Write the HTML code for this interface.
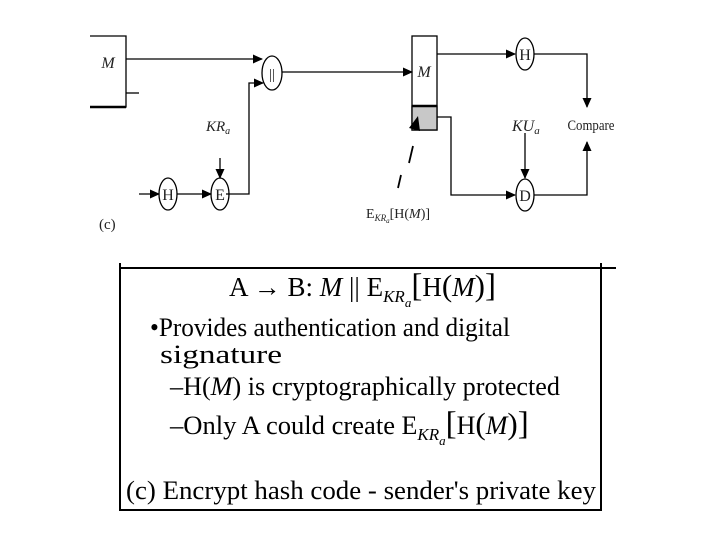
<!DOCTYPE html>
<html><head><meta charset="utf-8"><style>
html,body{margin:0;padding:0;background:#fff;}
svg{display:block;}
</style></head><body>
<svg width="720" height="540" viewBox="0 0 720 540" xmlns="http://www.w3.org/2000/svg">
<defs>
<marker id="a" markerWidth="10" markerHeight="9" refX="9" refY="4.5" orient="auto" markerUnits="userSpaceOnUse">
<path d="M0,0 L10,4.5 L0,9 z" fill="#000"/></marker>
</defs>
<g stroke="#000" fill="none" stroke-width="1.3">
<path d="M90,36 H126 V107 H90" />
<line x1="90" y1="107" x2="126" y2="107" stroke-width="2.5"/>
<line x1="126" y1="93" x2="139" y2="93"/>
<line x1="126" y1="59" x2="262" y2="59" marker-end="url(#a)"/>
<ellipse cx="272" cy="73" rx="10" ry="17"/>
<path d="M226,194 H249 V83 H263" marker-end="url(#a)"/>
<line x1="139" y1="194" x2="159" y2="194" marker-end="url(#a)"/>
<ellipse cx="168" cy="194" rx="9" ry="16"/>
<line x1="177" y1="194" x2="211" y2="194" marker-end="url(#a)"/>
<ellipse cx="220" cy="194" rx="9" ry="16"/>
<line x1="220" y1="158" x2="220" y2="178" marker-end="url(#a)"/>
<line x1="282" y1="72" x2="412" y2="72" marker-end="url(#a)"/>
<rect x="412" y="36" width="25" height="94"/>
<rect x="412" y="106" width="25" height="24" fill="#c8c8c8"/>
<line x1="412" y1="106" x2="437" y2="106" stroke-width="2.5"/>
<path d="M409,128 L418,116 L420,131 z" fill="#000" stroke="none"/>
<line x1="413" y1="146" x2="409" y2="163" stroke-width="1.8"/>
<line x1="401" y1="175" x2="398" y2="188" stroke-width="1.8"/>
<line x1="437" y1="54" x2="515" y2="54" marker-end="url(#a)"/>
<ellipse cx="525" cy="54" rx="9" ry="16"/>
<path d="M534,54 H587 V107" marker-end="url(#a)"/>
<path d="M437,117 H451 V195 H515" marker-end="url(#a)"/>
<ellipse cx="525" cy="195" rx="9" ry="16"/>
<path d="M534,195 H587 V142" marker-end="url(#a)"/>
<line x1="525" y1="133" x2="525" y2="178" marker-end="url(#a)"/>
<line x1="120" y1="263" x2="120" y2="511" stroke-width="2"/>
<line x1="601" y1="263" x2="601" y2="511" stroke-width="2"/>
<line x1="120" y1="268" x2="616" y2="268" stroke-width="2"/>
<line x1="120" y1="510" x2="601" y2="510" stroke-width="2"/>
</g>
<g font-family="Liberation Serif, serif" fill="#222">
<text x="108" y="68" font-size="16" font-style="italic" text-anchor="middle">M</text>
<text x="272" y="79" font-size="15" text-anchor="middle">||</text>
<text x="168" y="200" font-size="16" text-anchor="middle">H</text>
<text x="220" y="200" font-size="16" text-anchor="middle">E</text>
<text x="206" y="131" font-size="15" font-style="italic">KR<tspan font-size="10" dy="3">a</tspan></text>
<text x="99" y="229" font-size="15">(c)</text>
<text x="424" y="77" font-size="16" font-style="italic" text-anchor="middle">M</text>
<text x="525" y="60" font-size="16" text-anchor="middle">H</text>
<text x="525" y="201" font-size="16" text-anchor="middle">D</text>
<text x="512" y="131" font-size="16" font-style="italic">KU<tspan font-size="11" dy="3">a</tspan></text>
<text x="591" y="130" font-size="15" text-anchor="middle" textLength="47" lengthAdjust="spacingAndGlyphs">Compare</text>
<text x="366" y="218" font-size="14">E<tspan font-size="9" font-style="italic" dy="3">KR</tspan><tspan font-size="7" font-style="italic" dy="2">a</tspan><tspan dy="-5">[H(</tspan><tspan font-style="italic">M</tspan>)]</text>
</g>
<g font-family="Liberation Serif, serif" fill="#000" font-size="26">
<text x="229" y="296" font-size="27">A → B: <tspan font-style="italic">M</tspan> || E<tspan font-size="17" font-style="italic" dy="6">KR</tspan><tspan font-size="13" font-style="italic" dy="5">a</tspan><tspan font-size="33" dy="-11">[</tspan>H<tspan font-size="31">(</tspan><tspan font-style="italic">M</tspan><tspan font-size="31">)</tspan><tspan font-size="33">]</tspan></text>
<text x="150" y="336" textLength="360" lengthAdjust="spacingAndGlyphs">•Provides authentication and digital</text>
<text x="160" y="363" textLength="122" lengthAdjust="spacingAndGlyphs">signature</text>
<text x="170" y="395" textLength="390" lengthAdjust="spacingAndGlyphs">–H(<tspan font-style="italic">M</tspan>) is cryptographically protected</text>
<text x="170" y="434"><tspan textLength="225" lengthAdjust="spacingAndGlyphs">–Only A could create</tspan> E<tspan font-size="17" font-style="italic" dy="6">KR</tspan><tspan font-size="13" font-style="italic" dy="5">a</tspan><tspan font-size="33" dy="-11">[</tspan>H<tspan font-size="31">(</tspan><tspan font-style="italic">M</tspan><tspan font-size="31">)</tspan><tspan font-size="33">]</tspan></text>
<text x="361" y="499" text-anchor="middle" textLength="470" lengthAdjust="spacingAndGlyphs">(c) Encrypt hash code - sender's private key</text>
</g>
</svg>
</body></html>
